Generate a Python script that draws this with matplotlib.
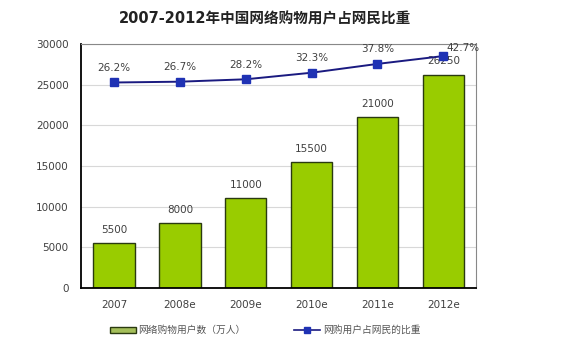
import numpy as np
import matplotlib.pyplot as plt
from matplotlib.lines import Line2D
from matplotlib.patches import Patch

plt.rcParams['font.family'] = ['DejaVu Sans', 'Noto Sans CJK SC']

years = ['2007', '2008e', '2009e', '2010e', '2011e', '2012e']
users = [5500, 8000, 11000, 15500, 21000, 26250]      # 万人
share = [26.2, 26.7, 28.2, 32.3, 37.8, 42.7]          # %

bar_color = '#99cc00'
line_color = '#1a1a80'
marker_color = '#1f32b4'
text_gray = '#404040'

fig = plt.figure(figsize=(5.83, 3.44), dpi=100)
ax = fig.add_axes([0.139, 0.163, 0.678, 0.709])
x = np.arange(len(years))

ax.bar(x, users, width=0.63, color=bar_color, edgecolor='#2a3a10', linewidth=1.0, zorder=2)
for xi, v in zip(x, users):
    ax.annotate(str(v), (xi, v), xytext=(0, 6), textcoords='offset points',
                ha='center', va='bottom', fontsize=7.5, color=text_gray)

ax.set_xlim(-0.5, 5.5)
ax.set_ylim(0, 30000)
ax.set_yticks(np.arange(0, 30001, 5000))
ax.set_xticks(x)
ax.set_xticklabels(years)
ax.tick_params(axis='both', length=0, labelsize=7.5, labelcolor=text_gray)
ax.tick_params(axis='x', pad=9)
ax.tick_params(axis='y', pad=9)
ax.grid(axis='y', color='#d8d8d8', linewidth=0.8, zorder=0)
ax.set_axisbelow(True)
for s in ['top', 'right']:
    ax.spines[s].set_color('#888888')
    ax.spines[s].set_linewidth(0.8)
for s in ['left', 'bottom']:
    ax.spines[s].set_color('black')
    ax.spines[s].set_linewidth(1.3)

# share of online shoppers on a hidden second axis
ax2 = ax.twinx()
ax2.set_ylim(-102, 50.2)
ax2.axis('off')
ax2.plot(x, share, color=line_color, linewidth=1.4, marker='s', markersize=5.5,
         markerfacecolor=marker_color, markeredgecolor=marker_color, zorder=3)
for i, (xi, p) in enumerate(zip(x, share)):
    off = (14, 2) if i == len(share) - 1 else (0, 7)
    ax2.annotate(f'{p}%', (xi, p), xytext=off, textcoords='offset points',
                 ha='center', va='bottom', fontsize=7.5, color=text_gray)

fig.text(0.455, 0.945, '2007-2012年中国网络购物用户占网民比重', ha='center', va='center',
         fontsize=10.5, fontweight='bold', color='#222222',
         family=['DejaVu Sans', 'Noto Sans CJK SC'])

handles = [Patch(facecolor='#a4bf5a', edgecolor='#2a3a10', linewidth=1.0),
           Line2D([0], [0], color=line_color, linewidth=1.2, marker='s', markersize=4,
                  markerfacecolor=marker_color, markeredgecolor=marker_color)]
labels = ['网络购物用户数（万人）', '网购用户占网民的比重']
leg = fig.legend(handles, labels, loc='center', bbox_to_anchor=(0.455, 0.04), ncol=2,
                 frameon=False, handlelength=2.6, handleheight=0.5,
                 columnspacing=5.0, handletextpad=0.3,
                 prop={'family': ['Noto Sans CJK SC'], 'size': 7})
for t in leg.get_texts():
    t.set_color('#555555')

fig.savefig('out.png', dpi=100)
